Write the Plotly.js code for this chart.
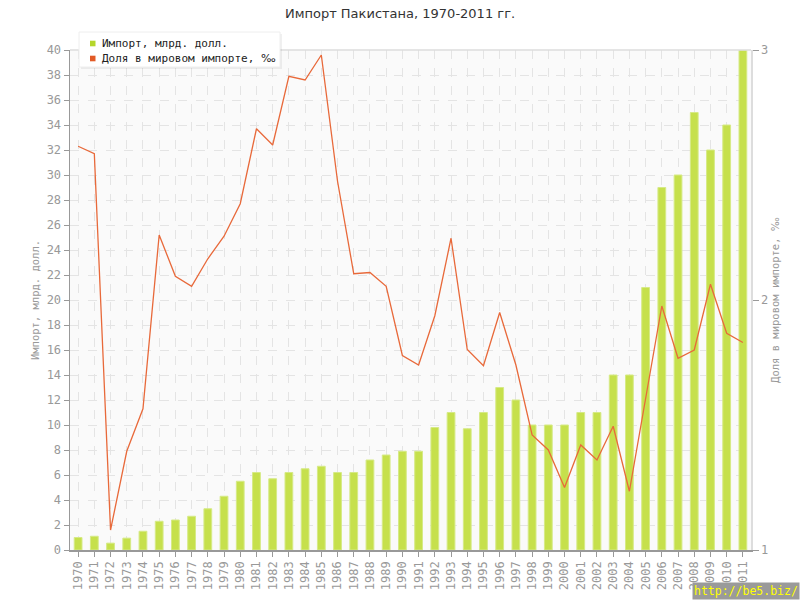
<!DOCTYPE html>
<html>
<head>
<meta charset="utf-8">
<script src="https://cdn.plot.ly/plotly-3.0.1.min.js"></script>
<style>html,body{margin:0;padding:0;background:#fff}#chart{width:800px;height:600px}</style>
</head>
<body>
<div id="chart"></div>
<script>
var years = ["1970","1971","1972","1973","1974","1975","1976","1977","1978","1979","1980","1981","1982","1983","1984","1985","1986","1987","1988","1989","1990","1991","1992","1993","1994","1995","1996","1997","1998","1999","2000","2001","2002","2003","2004","2005","2006","2007","2008","2009","2010","2011"];
var importBn = [1.0,1.1,0.55,0.95,1.5,2.3,2.4,2.7,3.3,4.3,5.5,6.2,5.7,6.2,6.5,6.7,6.2,6.2,7.2,7.6,7.9,7.9,9.8,11.0,9.7,11.0,13.0,12.0,10.0,10.0,10.0,11.0,11.0,14.0,14.0,21.0,29.0,30.0,35.0,32.0,34.0,40.0];
var sharePermille = [2.615,2.585,1.08,1.395,1.565,2.26,2.095,2.055,2.165,2.255,2.385,2.685,2.62,2.895,2.88,2.98,2.475,2.105,2.11,2.055,1.778,1.74,1.937,2.247,1.802,1.737,1.95,1.74,1.46,1.40,1.25,1.42,1.36,1.495,1.235,1.60,1.976,1.767,1.80,2.063,1.867,1.83];
var leftTicks = [0,2,4,6,8,10,12,14,16,18,20,22,24,26,28,30,32,34,36,38,40];
var rightTicks = [1,2,3];
var seriesNames = ["Импорт, млрд. долл.", "Доля в мировом импорте, ‰"];
var seriesColors = ["#b5d62b", "#e25a26"];
var titleText = "Импорт Пакистана, 1970-2011 гг.";
var leftTitle = "Импорт, млрд. долл.";
var rightTitle = "Доля в мировом импорте, ‰";
var watermark = "http://be5.biz/";

var green = "#c6e04c", orange = "#e8693a";
var mono = "DejaVu Sans Mono, monospace";
var grey = "#999999";

// plot area geometry (pixels) used only to place the hand-drawn legend
var L = 70, R = 751, T = 50, B = 550;
function px(x){ return (x - L) / (R - L); }
function py(y){ return (B - y) / (B - T); }

function permille(s){ return s.replace("‰", '<span style="font-family:DejaVu Sans">‰</span>'); }

var traces = [
  {type:"bar", x:years, y:importBn, width:0.48, marker:{color:green, line:{color:"#d6ea86", width:1}}, showlegend:false},
  {type:"scatter", mode:"lines", x:years, y:sharePermille, yaxis:"y2", line:{color:orange, width:1.3}, showlegend:false}
];

var shapes = [
  {type:"line", xref:"paper", yref:"paper", x0:0, x1:1, y0:1, y1:1, line:{color:"#dddddd", width:1.5}},
  // legend shadow + box
  {type:"rect", xref:"paper", yref:"paper", x0:px(81), x1:px(282), y0:py(69), y1:py(34), fillcolor:"rgba(0,0,0,0.06)", line:{width:0}},
  {type:"rect", xref:"paper", yref:"paper", x0:px(79), x1:px(280), y0:py(67), y1:py(32), fillcolor:"#ffffff", line:{color:"#eeeeee", width:1}}
];
var annotations = [];
seriesNames.forEach(function(name, i){
  var cy = 43.5 + i * 15;
  shapes.push({type:"rect", xref:"paper", yref:"paper", x0:px(90), x1:px(95.5), y0:py(cy+2.8), y1:py(cy-2.8), fillcolor:seriesColors[i], line:{width:0}});
  annotations.push({text:permille(name), xref:"paper", yref:"paper", x:px(100), y:py(cy), xanchor:"left", yanchor:"middle", showarrow:false, font:{family:mono, size:11, color:"#222222"}});
});
annotations.push({text:watermark, xref:"paper", yref:"paper", x:px(800), y:py(600), xanchor:"right", yanchor:"bottom", showarrow:false, bgcolor:"#9a9a9a", font:{family:mono, size:11.5, color:"#ffff00"}, borderpad:1});

var layout = {
  width:800, height:600,
  margin:{l:L, r:800-R, t:T, b:600-B},
  paper_bgcolor:"#ffffff",
  plot_bgcolor:"#fafafa",
  showlegend:false,
  title:{text:titleText, x:0.5, xanchor:"center", y:0.985, yanchor:"top", font:{family:"DejaVu Sans, sans-serif", size:13, color:"#333333"}},
  font:{family:mono, color:grey, size:12},
  xaxis:{
    type:"category", range:[-0.5, 41.5], tickangle:-90,
    showline:true, linecolor:grey, linewidth:1.5,
    ticks:"outside", ticklen:5, tickcolor:grey,
    showgrid:true, gridcolor:"#e4e4e4", griddash:"dash", gridwidth:1,
    tickfont:{family:mono, size:12, color:grey},
    zeroline:false
  },
  yaxis:{
    range:[0,40], tickmode:"array", tickvals:leftTicks,
    showline:true, linecolor:grey, linewidth:1.5,
    ticks:"outside", ticklen:5, tickcolor:grey,
    showgrid:true, gridcolor:"#e4e4e4", griddash:"dash", gridwidth:1,
    zeroline:false,
    tickfont:{family:mono, size:12, color:grey},
    title:{text:leftTitle, font:{family:mono, size:10.5, color:grey}, standoff:5}
  },
  yaxis2:{
    overlaying:"y", side:"right", range:[1,3], tickmode:"array", tickvals:rightTicks,
    showline:true, linecolor:"#dddddd", linewidth:1.5,
    ticks:"outside", ticklen:6, tickcolor:grey,
    showgrid:false, zeroline:false,
    tickfont:{family:mono, size:12, color:grey},
    title:{text:permille(rightTitle), font:{family:mono, size:10.5, color:grey}, standoff:4}
  },
  shapes:shapes,
  annotations:annotations
};

Plotly.newPlot("chart", traces, layout, {displayModeBar:false, staticPlot:true});
</script>
</body>
</html>
